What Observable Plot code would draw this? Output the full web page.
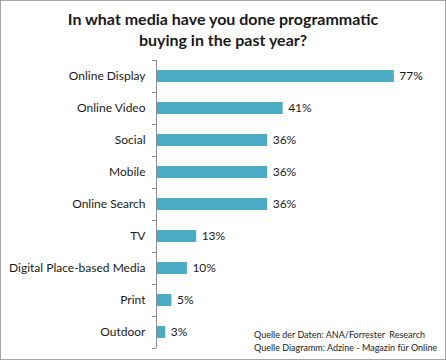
<!DOCTYPE html>
<html>
<head>
<meta charset="utf-8">
<script src="https://cdn.jsdelivr.net/npm/d3@7"></script>
<script src="https://cdn.jsdelivr.net/npm/@observablehq/plot@0.6"></script>
<style>
  body { margin: 0; background: #fff; }
  #wrap { position: relative; width: 446px; height: 360px; border: 1px solid #a6a6a6; box-sizing: border-box; font-family: Lato, "Open Sans", sans-serif; overflow: hidden; }
  #title { position: absolute; top: 7px; left: 0; width: 100%; text-align: center; font-weight: bold; font-size: 16px; line-height: 21px; color: #1a1a1a; }
  #chart { position: absolute; top: 0; left: 0; }
  #caption { position: absolute; left: 253px; top: 328px; font-size: 9px; line-height: 12.5px; color: #222; white-space: nowrap; }
</style>
</head>
<body>
<div id="wrap">
  <div id="chart"></div>
  <div id="title">In what media have you done programmatic<br>buying in the past year?</div>
  <div id="caption">Quelle der Daten: ANA/Forrester&nbsp; Research<br>Quelle Diagramm: Adzine - Magazin für Online</div>
</div>
<script>
const categories = ["Online Display", "Online Video", "Social", "Mobile", "Online Search", "TV", "Digital Place-based Media", "Print", "Outdoor"];
const values = [77, 41, 36, 36, 36, 13, 10, 5, 3];

const data = categories.map((c, i) => ({category: c, value: values[i]}));
const step = (347 - 59) / categories.length;

const chart = Plot.plot({
  width: 444,
  height: 358,
  marginLeft: 155,
  marginRight: 11,
  marginTop: 59,
  marginBottom: 11,
  style: {fontFamily: "Lato, 'Open Sans', sans-serif", fontSize: "12px", color: "#1a1a1a", background: "transparent"},
  x: {domain: [0, 90], axis: null},
  y: {domain: categories, paddingInner: 0.62, paddingOuter: 0.31, axis: null},
  marks: [
    Plot.barX(data, {x: "value", y: "category", fill: "#4bacc6"}),
    Plot.ruleX([0], {stroke: "#8c8c8c"}),
    Plot.ruleY(data, {y: "category", x1: -1.3, x2: 0, stroke: "#8c8c8c", dy: -step / 2}),
    Plot.ruleY(data.slice(-1), {y: "category", x1: -1.3, x2: 0, stroke: "#8c8c8c", dy: step / 2}),
    Plot.axisY({tickSize: 0, tickPadding: 11, fontSize: 12, fill: "#1a1a1a", label: null}),
    Plot.text(data, {x: "value", y: "category", text: d => d.value + "%", dx: 5, textAnchor: "start", fontSize: 12, fill: "#1a1a1a"})
  ]
});
document.getElementById("chart").appendChild(chart);
</script>
</body>
</html>
